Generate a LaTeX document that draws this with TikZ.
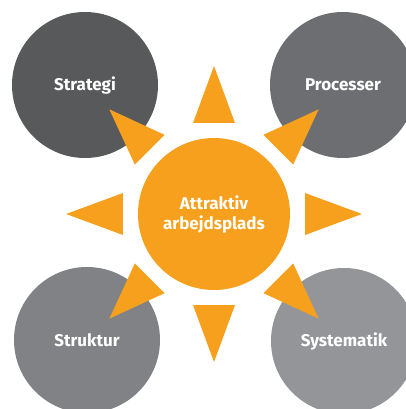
\documentclass[tikz,border=0pt]{standalone}
\usepackage{fontspec}
\setmainfont{Fira Sans}
\usepackage{tikz}
\usetikzlibrary{positioning}
\usepackage{xcolor}
\definecolor{sunorange}{HTML}{F6A01E}
\definecolor{grayA}{HTML}{58595B}
\definecolor{grayB}{HTML}{6D6E71}
\definecolor{grayC}{HTML}{808285}
\definecolor{grayD}{HTML}{939598}

\begin{document}
\begin{tikzpicture}[x=1pt, y=1pt,
    topic/.style={circle, minimum size=146pt, inner sep=0pt, text=white,
        font=\fontsize{17}{20}\selectfont\bfseries},
    sunray/.style={fill=sunorange}]
    \useasboundingbox (-214,-195) rectangle (192,214);

    \node[topic, fill=grayA] (strategi) at (-129,129) {Strategi};
    \node[topic, fill=grayB] (processer) at (129,129) {Processer};
    \node[topic, fill=grayC] (struktur) at (-127,-126) {Struktur};
    \node[topic, fill=grayD] (systematik) at (130,-127) {Systematik};

    \coordinate (sun) at (0,0);
    \foreach \a in {0,45,...,315}
        \fill[sunray, shift={(sun)}, rotate=\a] (91,-21) -- (148,0) -- (91,21) -- cycle;

    \node[topic, fill=sunorange, minimum size=152pt, align=center] (attraktiv) at (sun) {Attraktiv\\arbejdsplads};
\end{tikzpicture}
\end{document}
